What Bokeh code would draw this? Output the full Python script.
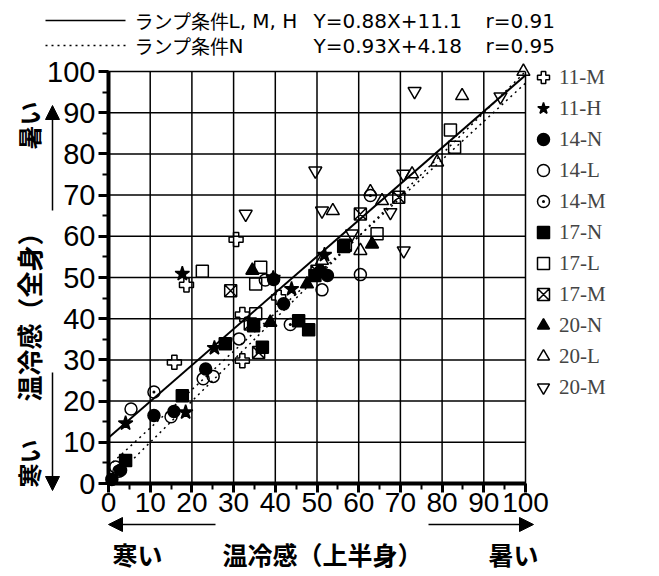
from bokeh.plotting import figure
from bokeh.models import (Label, Arrow, NormalHead, Legend, LegendItem,
                          SingleIntervalTicker, LinearAxis, Range1d)
from bokeh.embed import file_html
from bokeh.resources import INLINE

# ---------------- data ----------------
m11_x = [15.8, 18.7, 30.6, 32.1, 32.1, 40.8]
m11_y = [29.4, 48.2, 59.2, 41.0, 29.8, 45.2]

h11_x = [4.1, 17.7, 18.5, 25.4, 39.5, 43.9, 51.8]
h11_y = [14.6, 50.9, 17.3, 32.9, 49.9, 47.2, 55.5]

n14_x = [0.8, 2.9, 10.9, 15.7, 23.3, 39.6, 42.0, 50.8, 52.5]
n14_y = [1.0, 3.2, 16.5, 17.5, 27.8, 49.5, 43.6, 51.5, 50.5]

l14_x = [1.7, 5.4, 15.0, 22.7, 25.1, 31.3, 37.6, 51.2, 60.4]
l14_y = [4.0, 18.1, 16.2, 25.4, 26.0, 35.1, 49.4, 47.0, 50.7]

m14_x = [2.5, 10.9, 43.6, 62.8]
m14_y = [3.0, 22.2, 38.6, 69.9]

n17_x = [4.1, 17.7, 28.0, 34.8, 36.9, 45.6, 48.0, 49.5, 56.4]
n17_y = [5.6, 21.3, 33.9, 38.3, 33.1, 39.5, 37.3, 50.5, 57.5]

l17_x = [22.5, 35.3, 35.3, 36.5, 64.4, 82.0, 83.0]
l17_y = [51.5, 41.2, 48.4, 52.5, 60.6, 85.8, 81.6]

m17_x = [29.3, 36.0, 34.0, 56.8, 60.4, 69.6, 50.0]
m17_y = [46.8, 31.8, 38.7, 57.8, 65.4, 69.5, 51.5]

n20_x = [34.5, 38.8, 47.6, 63.2]
n20_y = [51.7, 39.1, 48.4, 58.1]

l20_x = [51.2, 53.8, 60.4, 62.8, 65.6, 72.8, 78.8, 84.8, 99.5]
l20_y = [54.1, 66.2, 56.5, 70.8, 68.6, 75.1, 78.0, 94.1, 100.0]

m20_x = [32.9, 49.6, 51.2, 58.4, 67.6, 70.7, 70.8, 73.4, 94.0]
m20_y = [65.4, 75.9, 66.2, 60.6, 65.8, 75.1, 56.5, 95.2, 93.9]

# regression lines given in the chart
slope_lmh, icpt_lmh, r_lmh = 0.88, 11.1, 0.91
slope_n, icpt_n, r_n = 0.93, 4.18, 0.95
line_x = [0, 100]

ticks = list(range(0, 101, 10))

# ---------------- geometry ----------------
W, H = 652, 574
X0PX, X100PX = 108, 525      # pixel of x=0 and x=100
Y0PX, Y100PX = 483, 71       # pixel of y=0 and y=100
sx = (X100PX - X0PX) / 100.0
sy = (Y0PX - Y100PX) / 100.0
x_range = Range1d(-X0PX / sx, (W - X0PX) / sx)
y_range = Range1d(-(H - Y0PX) / sy, Y0PX / sy)

p = figure(width=W, height=H, x_range=x_range, y_range=y_range,
           output_backend="svg", toolbar_location=None,
           x_axis_location=None, y_axis_location=None,
           min_border=0)
p.background_fill_color = "white"
p.border_fill_color = "white"
p.outline_line_color = None
p.grid.visible = False

# grid (every 10, inside 0..100)
p.segment(x0=ticks, y0=[0] * len(ticks), x1=ticks, y1=[100] * len(ticks),
          line_color="black", line_width=1.5)
p.segment(x0=[0] * len(ticks), y0=ticks, x1=[100] * len(ticks), y1=ticks,
          line_color="black", line_width=1.5)

# real axes fixed at 0
xax = LinearAxis(fixed_location=0, bounds=(0, 100))
yax = LinearAxis(fixed_location=0, bounds=(0, 100))
for ax in (xax, yax):
    ax.ticker = SingleIntervalTicker(interval=10, num_minor_ticks=2)
    ax.axis_line_width = 4
    ax.major_tick_in = 0
    ax.minor_tick_out = 6
    ax.minor_tick_in = 0
    ax.major_tick_line_width = 3
    ax.minor_tick_line_width = 2
    ax.major_label_text_font = "Liberation Sans"
    ax.major_label_text_color = "black"
xax.major_tick_out = 9
xax.major_label_standoff = 0
xax.major_label_text_font_size = "28px"
yax.major_tick_out = 10
yax.major_label_standoff = 3
yax.major_label_text_font_size = "29px"
p.add_layout(xax, "below")
p.add_layout(yax, "left")

# lines
p.line(line_x, [slope_lmh * v + icpt_lmh for v in line_x], line_color="black", line_width=2)
p.line(line_x, [slope_n * v + icpt_n for v in line_x], line_color="black", line_width=1.5,
       line_dash="2 4")
p.line(line_x, line_x, line_color="black", line_width=1.5, line_dash="2 4")

# scatter series
series = [
    ("11-M", m11_x, m11_y, "plus", None, 14),
    ("11-H", h11_x, h11_y, "star", "black", 15),
    ("14-N", n14_x, n14_y, "circle", "black", 12),
    ("14-L", l14_x, l14_y, "circle", None, 12),
    ("14-M", m14_x, m14_y, "circle_dot", None, 12),
    ("17-N", n17_x, n17_y, "square", "black", 12),
    ("17-L", l17_x, l17_y, "square", None, 12),
    ("17-M", m17_x, m17_y, "square_x", None, 12),
    ("20-N", n20_x, n20_y, "triangle", "black", 13),
    ("20-L", l20_x, l20_y, "triangle", None, 13),
    ("20-M", m20_x, m20_y, "inverted_triangle", None, 13),
]
items = []
for name, xs, ys, mk, fc, sz in series:
    r = p.scatter(xs, ys, marker=mk, size=sz, fill_color=fc, line_color="black",
                  line_width=1.5)
    items.append(LegendItem(label=name, renderers=[r]))

legend = Legend(items=items, location=(528, H - 402), orientation="vertical",
                glyph_width=30, glyph_height=30, label_height=30, spacing=1,
                label_standoff=1, padding=0, margin=0,
                border_line_color=None, background_fill_alpha=0,
                label_text_font="Liberation Serif", label_text_font_size="21px")
p.add_layout(legend, "center")

# ---------------- texts around the plot ----------------
jp = "Noto Sans CJK JP"
lat = "DejaVu Sans"

def lab(x, y, t, size, bold=False, align="left", angle=0, font=jp):
    p.add_layout(Label(x=x, y=y, text=t, text_font=font, text_font_size=size,
                       text_font_style="bold" if bold else "normal",
                       text_align=align, text_baseline="middle",
                       angle=angle, angle_units="deg", text_color="black"))

def px_x(v):
    return (v - X0PX) / sx

def px_y(v):
    return (Y0PX - v) / sy

head = dict(size=14, fill_color="black", line_color="black")

# top legend
y1, y2 = px_y(20), px_y(45)
p.add_layout(Arrow(start=None, end=None, x_start=px_x(45), y_start=y1, x_end=px_x(125),
                   y_end=y1, line_color="black", line_width=1.5))
p.add_layout(Arrow(start=None, end=None, x_start=px_x(45), y_start=y2, x_end=px_x(125),
                   y_end=y2, line_color="black", line_width=1.5, line_dash="2 4"))
lab(px_x(134), y1, "ランプ条件", "19px")
lab(px_x(228), y1, "L, M, H", "20px", font=lat)
lab(px_x(313), y1, f"Y={slope_lmh}X+{icpt_lmh}", "20px", font=lat)
lab(px_x(485), y1, f"r={r_lmh}", "20px", font=lat)
lab(px_x(134), y2, "ランプ条件", "19px")
lab(px_x(228), y2, "N", "20px", font=lat)
lab(px_x(313), y2, f"Y={slope_n}X+{icpt_n}", "20px", font=lat)
lab(px_x(485), y2, f"r={r_n}", "20px", font=lat)

# y axis title + arrows
lab(px_x(28), px_y(310), "温冷感（全身）", "26px", bold=True, align="center", angle=90)
lab(px_x(28), px_y(125), "暑い", "24px", bold=True, align="center", angle=90)
lab(px_x(28), px_y(463), "寒い", "24px", bold=True, align="center", angle=90)
p.add_layout(Arrow(end=NormalHead(**head), x_start=px_x(52), y_start=px_y(210),
                   x_end=px_x(52), y_end=px_y(105), line_color="black", line_width=1.5))
p.add_layout(Arrow(end=NormalHead(**head), x_start=px_x(52), y_start=px_y(372),
                   x_end=px_x(52), y_end=px_y(490), line_color="black", line_width=1.5))

# x axis title + arrows
lab(px_x(137), px_y(553), "寒い", "25px", bold=True, align="center")
lab(px_x(322), px_y(553), "温冷感（上半身）", "25px", bold=True, align="center")
lab(px_x(513), px_y(553), "暑い", "25px", bold=True, align="center")
p.add_layout(Arrow(end=NormalHead(**head), x_start=px_x(215), y_start=px_y(524),
                   x_end=px_x(108), y_end=px_y(524), line_color="black", line_width=1.5))
p.add_layout(Arrow(end=NormalHead(**head), x_start=px_x(428), y_start=px_y(524),
                   x_end=px_x(533), y_end=px_y(524), line_color="black", line_width=1.5))

open("out.html", "w").write(file_html(p, INLINE))
